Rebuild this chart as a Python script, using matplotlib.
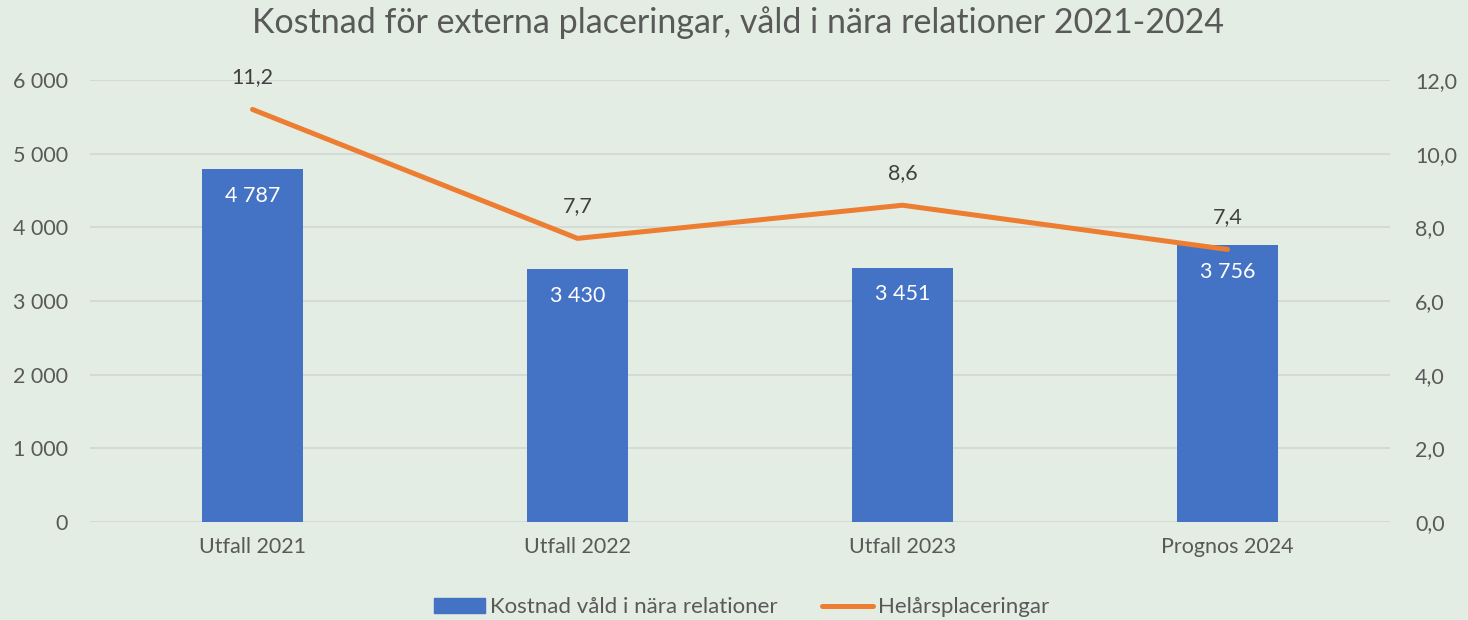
import matplotlib.pyplot as plt
from matplotlib.lines import Line2D
from matplotlib.patches import Patch

plt.rcParams['font.family'] = ['Lato', 'DejaVu Sans']

categories = ["Utfall 2021", "Utfall 2022", "Utfall 2023", "Prognos 2024"]
kostnad = [4787, 3430, 3451, 3756]
helar = [11.2, 7.7, 8.6, 7.4]
left_ticks = [0, 1000, 2000, 3000, 4000, 5000, 6000]
right_ticks = [0, 2, 4, 6, 8, 10, 12]

bg = '#E3EDE3'
blue = '#4472C4'
orange = '#ED7D31'
txt = '#595959'


def sv_thousands(v):
    return f"{v:,.0f}".replace(",", " ")


def sv_decimal(v):
    return f"{v:.1f}".replace(".", ",")


fig = plt.figure(figsize=(14.68, 6.2), dpi=100, facecolor=bg)
ax = fig.add_axes([0.0613, 0.158, 0.8856, 0.713])
ax.set_facecolor(bg)
x = list(range(len(categories)))

bars = ax.bar(x, kostnad, width=0.31, color=blue, zorder=2)
ax.set_xlim(-0.5, 3.5)
ax.set_ylim(0, 6000)
ax.set_yticks(left_ticks)
ax.set_yticklabels([sv_thousands(v) for v in left_ticks])
ax.set_xticks(x)
ax.set_xticklabels(categories)
ax.grid(axis='y', color='#D5D9D5', linewidth=1.3, zorder=0)
for s in ax.spines.values():
    s.set_visible(False)
ax.tick_params(length=0, labelsize=15.5, colors=txt)
ax.tick_params(axis='y', pad=16)
ax.tick_params(axis='x', pad=11)

for xi, v in zip(x, kostnad):
    ax.annotate(sv_thousands(v), (xi, v), xytext=(0, -12), textcoords='offset points',
                ha='center', va='top', color='white', fontsize=15.5, zorder=4)

ax2 = ax.twinx()
ax2.set_ylim(0, 12)
ax2.set_yticks(right_ticks)
ax2.set_yticklabels([sv_decimal(v) for v in right_ticks])
for s in ax2.spines.values():
    s.set_visible(False)
ax2.tick_params(length=0, labelsize=15.5, colors=txt, pad=18)
ax2.plot(x, helar, color=orange, linewidth=3.6, solid_capstyle='round', zorder=3)
for xi, v in zip(x, helar):
    ax2.annotate(sv_decimal(v), (xi, v), xytext=(0, 16), textcoords='offset points',
                 ha='center', va='bottom', color='#404040', fontsize=15.5)

fig.suptitle("Kostnad för externa placeringar, våld i nära relationer 2021-2024",
             x=0.503, y=0.99, fontsize=24.5, color=txt)

handles = [Patch(color=blue, label="Kostnad våld i nära relationer"),
           Line2D([0], [0], color=orange, linewidth=3.6, solid_capstyle='round',
                  label="Helårsplaceringar")]
fig.legend(handles=handles, loc='lower center', bbox_to_anchor=(0.505, -0.028), ncol=2,
           frameon=False, fontsize=16, labelcolor=txt, handlelength=2.3,
           handletextpad=0.22, columnspacing=2.0)

fig.savefig("out.png", dpi=100, facecolor=bg)
